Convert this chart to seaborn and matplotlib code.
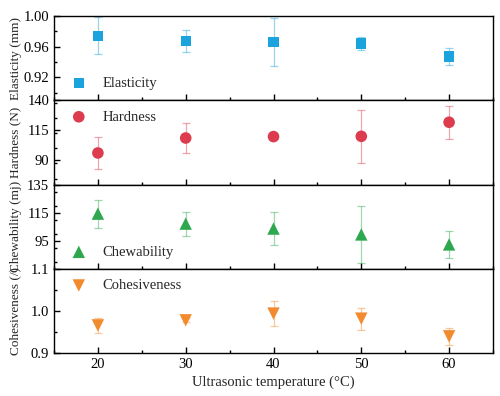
import matplotlib
matplotlib.use("Agg")
import matplotlib.pyplot as plt
from matplotlib.ticker import MultipleLocator
import seaborn as sns
import pandas as pd

temperature = [20, 30, 40, 50, 60]

elasticity = [0.974, 0.967, 0.966, 0.964, 0.947]
elasticity_err = [0.024, 0.014, 0.031, 0.008, 0.011]

hardness = [96.2, 108.6, 109.8, 110.0, 121.7]
hardness_err = [13.0, 12.6, 2.0, 21.8, 13.5]

chewability = [114.3, 107.2, 103.7, 99.5, 92.4]
chewability_err = [10.0, 8.5, 11.6, 20.5, 9.7]

cohesiveness = [0.966, 0.978, 0.994, 0.982, 0.940]
cohesiveness_err = [0.018, 0.005, 0.030, 0.026, 0.021]

sns.set_style("ticks")
plt.rcParams["font.family"] = ["Liberation Serif", "DejaVu Serif"]

panels = [
    ("Elasticity", "Elasticity (mm)", elasticity, elasticity_err, "s", "#1aa3dc", 55,
     (0.89, 1.00), 0.02, [0.92, 0.96, 1.00], ["0.92", "0.96", "1.00"], "lower left"),
    ("Hardness", "Hardness (N)", hardness, hardness_err, "o", "#dc3c4e", 70,
     (70, 140), 12.5, [90, 115, 140], ["90", "115", "140"], "upper left"),
    ("Chewability", "Chewability (mj)", chewability, chewability_err, "^", "#2ea84e", 80,
     (75, 135), 10, [95, 115, 135], ["95", "115", "135"], "lower left"),
    ("Cohesiveness", "Cohesiveness (/)", cohesiveness, cohesiveness_err, "v", "#f28a2e", 80,
     (0.9, 1.1), 0.05, [0.9, 1.0, 1.1], ["0.9", "1.0", "1.1"], "upper left"),
]

fig, axes = plt.subplots(4, 1, figsize=(5, 3.96), dpi=100, sharex=True)
fig.subplots_adjust(left=0.108, right=0.986, top=0.96, bottom=0.108, hspace=0)

for ax, (name, ylabel, vals, errs, marker, color, size, ylim, minor, ticks, ticklabels, loc) in zip(axes, panels):
    df = pd.DataFrame({"temperature": temperature, "value": vals})
    # light error bars behind the markers
    ax.errorbar(temperature, vals, yerr=errs, fmt="none", ecolor=color, alpha=0.45,
                elinewidth=0.9, capsize=3, capthick=0.9, zorder=1)
    sns.scatterplot(data=df, x="temperature", y="value", marker=marker, color=color,
                    s=size, edgecolor="none", label=name, ax=ax, zorder=3)
    ax.set_ylim(*ylim)
    ax.set_yticks(ticks)
    ax.set_yticklabels(ticklabels)
    ax.yaxis.set_minor_locator(MultipleLocator(minor))
    ax.set_ylabel(ylabel, fontsize=9.5)
    ax.yaxis.set_label_coords(-0.074, 0.5)
    ax.set_xlabel("")
    ax.legend(loc=loc, frameon=False, fontsize=10.5, handletextpad=0.6,
              borderaxespad=0.3)
    for s in ax.spines.values():
        s.set_linewidth(1.0)
        s.set_color("black")
    ax.tick_params(which="both", direction="in", labelsize=10.5, colors="black")
    ax.tick_params(which="major", length=4, width=1)
    ax.tick_params(which="minor", length=2.5, width=1)

axes[-1].set_xlim(15, 65)
axes[-1].set_xticks([20, 30, 40, 50, 60])
axes[-1].xaxis.set_minor_locator(MultipleLocator(5))
axes[-1].set_xlabel("Ultrasonic temperature (°C)", fontsize=10.5, labelpad=3)

fig.savefig("out.png", dpi=100)
